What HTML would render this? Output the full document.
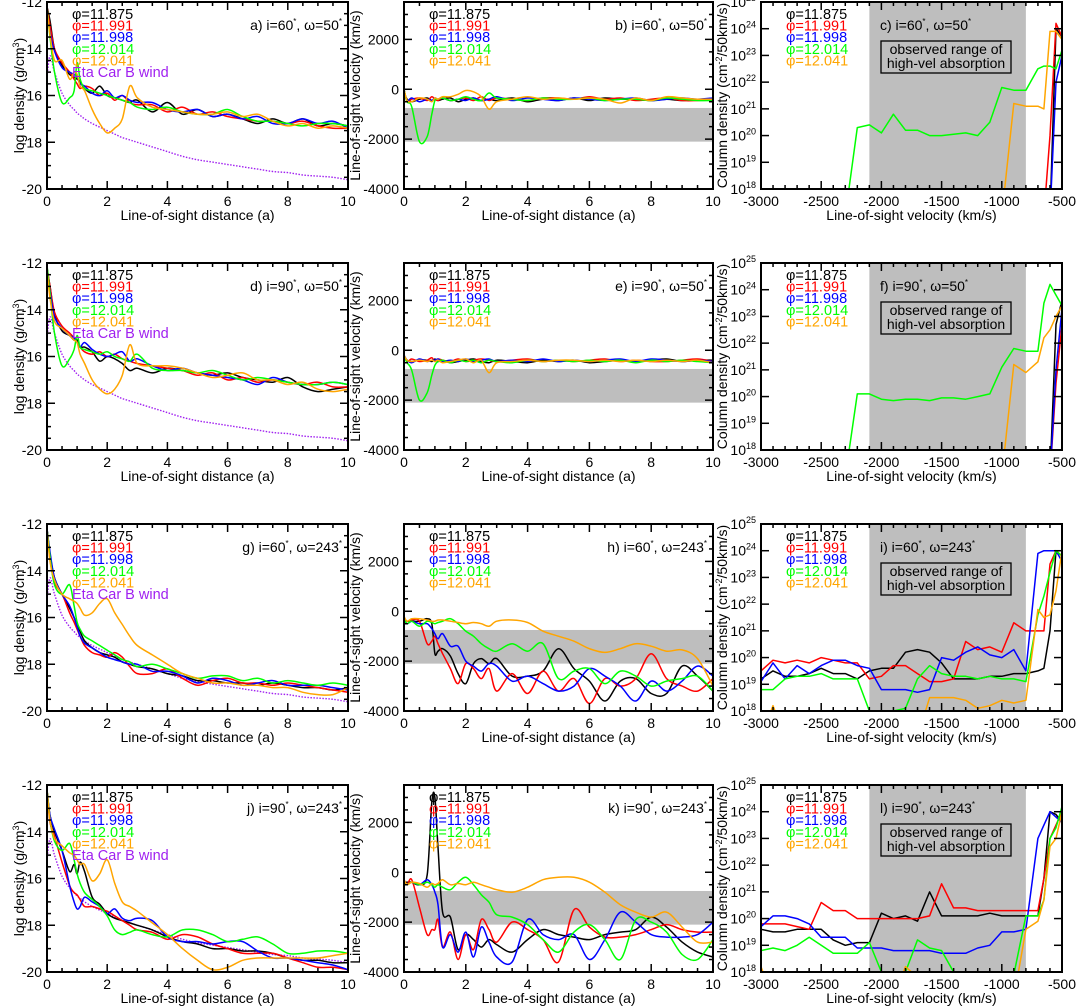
<!DOCTYPE html>
<html><head><meta charset="utf-8">
<style>
html,body{margin:0;padding:0;background:#fff;}
svg{display:block;font-family:"Liberation Sans",sans-serif;}
</style></head>
<body>
<svg id="fig" width="1076" height="1006" viewBox="0 0 1076 1006" xmlns="http://www.w3.org/2000/svg"></svg>
<script>
// shared grids
const G = [0,0.1,0.25,0.5,0.75,0.9,1,1.1,1.25,1.5, 1.75,2,2.25,2.5,2.75,3,3.5,4,4.5,5, 5.5,6,6.5,7,7.5,8,8.5,9,9.5,10];
const V = [-3000,-2900,-2800,-2700,-2600,-2500,-2400,-2300,-2200,-2100, -2000,-1900,-1800,-1700,-1600,-1500,-1400,-1300,-1200,-1100, -1000,-900,-800,-700,-650,-600,-550,-500];
const PHI = ['11.875','11.991','11.998','12.014','12.041'];
const WIND = [-15.2,-14.3,-15.0,-15.9,-16.4,-16.6,-16.75,-16.85,-17.0,-17.2, -17.35,-17.5,-17.65,-17.8,-17.9,-18.0,-18.2,-18.4,-18.6,-18.75, -18.85,-18.95,-19.05,-19.15,-19.25,-19.3,-19.4,-19.45,-19.5,-19.6];
const DEN_TICKS = [-12,-14,-16,-18,-20];
const VEL_TICKS = [-4000,-2000,0,2000];
const DIST_TICKS = [0,2,4,6,8,10];
const LOS_TICKS = [-3000,-2500,-2000,-1500,-1000,-500];
const COL_TICKS = [18,19,20,21,22,23,24,25];
const BAND_VEL = [-750,-2100];
const BAND_LOS = [-2100,-800];

// panel a
const a_k=[-12.2,-12.8,-14.0,-14.7,-15.1,-15.2,-15.3,-15.4,-15.7,-15.9, -15.6,-16.0,-16.1,-16.2,-16.3,-16.2,-16.7,-16.3,-16.8,-16.6, -16.9,-16.8,-17.0,-17.2,-17.0,-17.2,-17.0,-17.3,-17.2,-17.3];
const a_r=[-12.2,-13.0,-14.0,-14.6,-15.0,-15.3,-15.5,-15.7,-15.6,-15.7, -16.0,-15.9,-16.2,-16.0,-16.3,-16.4,-16.4,-16.7,-16.5,-16.8, -16.7,-16.9,-17.0,-17.1,-17.1,-17.2,-17.1,-17.3,-17.4,-17.4];
const a_b=[-12.3,-13.3,-14.1,-14.8,-15.0,-15.1,-15.2,-15.5,-15.6,-15.9, -16.0,-15.8,-16.1,-16.0,-16.2,-16.3,-16.3,-16.6,-16.7,-16.6, -16.9,-16.8,-17.0,-16.9,-17.2,-17.2,-17.0,-17.2,-17.1,-17.4];
const a_g=[-12.2,-13.5,-15.0,-16.3,-16.1,-15.8,-14.6,-15.3,-15.7,-15.8, -15.9,-16.0,-16.1,-16.2,-16.3,-16.5,-16.6,-16.5,-16.7,-16.8, -16.8,-16.6,-16.9,-17.1,-17.1,-17.2,-17.3,-17.2,-17.2,-17.3];
const a_o=[-12.3,-13.4,-14.5,-14.5,-15.3,-15.0,-15.1,-15.6,-15.8,-16.6, -17.2,-17.6,-17.4,-17.0,-15.6,-16.1,-16.5,-16.6,-16.7,-16.8, -16.8,-16.7,-16.9,-16.8,-17.1,-17.3,-17.2,-17.4,-17.3,-17.4];
// panel d
const d_k=[-12.2,-13.0,-14.2,-14.9,-15.1,-15.3,-15.3,-15.6,-15.6,-15.8, -16.2,-16.0,-16.1,-16.3,-16.6,-16.5,-16.7,-16.5,-16.6,-16.7, -16.8,-16.7,-16.9,-17.0,-17.1,-16.9,-17.3,-17.5,-17.4,-17.3];
const d_r=[-12.2,-13.0,-14.1,-14.7,-15.0,-15.2,-15.4,-15.6,-15.8,-15.9, -15.8,-16.0,-15.9,-16.1,-16.2,-16.3,-16.4,-16.5,-16.6,-16.8, -16.7,-17.0,-16.9,-17.1,-17.0,-17.1,-17.2,-17.1,-17.3,-17.3];
const d_b=[-12.3,-13.2,-14.3,-14.8,-15.1,-15.2,-15.4,-15.6,-15.4,-15.7, -15.9,-16.0,-15.9,-15.8,-16.2,-16.1,-16.4,-16.6,-16.5,-16.7, -16.8,-16.9,-17.0,-17.2,-16.9,-17.1,-17.2,-17.2,-17.1,-17.2];
const d_g=[-12.1,-13.3,-15.0,-16.4,-16.1,-15.7,-15.1,-15.6,-15.7,-15.8, -15.9,-15.8,-16.0,-16.1,-16.2,-15.9,-16.5,-16.6,-16.6,-16.7, -16.6,-16.8,-17.0,-16.9,-17.0,-17.1,-17.2,-17.2,-17.1,-17.2];
const d_o=[-12.3,-13.5,-14.5,-14.8,-15.1,-15.3,-15.4,-15.9,-16.3,-17.0, -17.4,-17.6,-17.4,-16.8,-15.5,-16.3,-16.4,-16.4,-16.5,-16.7, -16.9,-16.8,-16.7,-17.0,-17.0,-17.2,-17.1,-17.4,-17.5,-17.4];
// panel g
const g_k=[-12.2,-13.3,-14.3,-15.0,-15.6,-16.0,-16.3,-16.6,-17.0,-17.3, -17.5,-17.6,-17.7,-17.9,-18.0,-18.1,-18.2,-18.4,-18.5,-18.7, -18.7,-18.8,-18.8,-18.9,-18.8,-18.9,-19.0,-19.0,-19.1,-19.0];
const g_r=[-12.2,-13.5,-14.5,-15.0,-15.8,-16.2,-16.5,-16.8,-17.2,-17.5, -17.6,-17.7,-17.5,-17.7,-18.1,-18.4,-18.4,-18.2,-18.6,-18.9, -18.7,-18.6,-18.8,-18.8,-18.9,-18.8,-18.9,-19.0,-19.1,-19.2];
const g_b=[-12.2,-13.2,-14.3,-15.0,-15.5,-16.0,-16.4,-16.8,-17.1,-17.3, -17.5,-17.7,-17.8,-17.9,-18.0,-18.0,-18.3,-18.3,-18.5,-18.8, -18.6,-18.7,-18.9,-18.8,-18.7,-18.9,-18.9,-18.9,-19.0,-19.1];
const g_g=[-12.2,-13.4,-14.6,-15.0,-14.6,-15.5,-16.2,-16.5,-16.8,-17.0, -17.2,-17.4,-17.6,-17.8,-17.9,-18.1,-18.0,-18.2,-18.4,-18.6, -18.5,-18.5,-18.7,-18.6,-18.8,-18.7,-18.8,-18.9,-18.8,-18.9];
const g_o=[-12.2,-13.6,-14.4,-15.0,-15.2,-15.3,-15.4,-15.6,-15.9,-15.8, -15.4,-15.2,-15.8,-16.3,-16.8,-17.2,-17.6,-18.0,-18.4,-18.6, -18.8,-18.8,-18.9,-18.9,-19.0,-19.0,-19.2,-19.3,-19.3,-19.0];
// panel j
const j_k=[-12.2,-13.3,-14.0,-14.8,-15.7,-15.4,-15.8,-15.3,-15.7,-16.8, -17.1,-17.5,-17.7,-17.8,-17.9,-18.0,-18.2,-18.5,-18.7,-18.8, -19.0,-19.0,-19.1,-19.1,-19.2,-19.4,-19.5,-19.5,-19.6,-19.6];
const j_r=[-12.2,-13.6,-14.2,-15.3,-16.3,-16.6,-16.7,-16.9,-17.2,-17.2, -17.3,-17.4,-17.6,-17.8,-18.0,-18.2,-18.3,-18.6,-18.4,-18.5, -18.8,-19.0,-19.2,-19.2,-19.2,-19.4,-19.6,-19.8,-19.8,-19.9];
const j_b=[-12.3,-13.3,-13.9,-14.8,-16.3,-17.0,-17.3,-17.2,-16.8,-17.0, -17.2,-17.5,-17.3,-17.7,-17.8,-17.7,-17.8,-18.5,-18.7,-18.7, -18.8,-18.7,-18.7,-19.1,-19.4,-19.4,-19.5,-19.6,-19.7,-19.9];
const j_g=[-12.2,-13.5,-14.4,-14.8,-14.5,-15.2,-15.8,-16.2,-16.6,-16.9, -17.2,-17.6,-18.2,-18.4,-18.3,-18.2,-18.4,-18.5,-18.2,-18.2, -18.4,-18.7,-18.6,-18.5,-18.8,-19.2,-19.2,-19.1,-19.1,-19.2];
const j_o=[-12.2,-13.5,-14.3,-14.6,-14.9,-15.0,-15.2,-15.4,-15.4,-16.1, -15.8,-15.2,-16.2,-17.0,-17.2,-17.4,-17.9,-18.4,-19.0,-19.5, -19.9,-19.8,-19.5,-19.4,-19.4,-19.4,-19.4,-19.4,-19.3,-19.2];
// panel b
const b_k=[-100,-400,-500,-400,-350,-450,-400,-450,-400,-350, -500,-400,-350,-450,-400,-450,-350,-500,-400,-450, -350,-450,-350,-400,-400,-450,-400,-450,-400,-450];
const b_r=[0,-500,-400,-350,-450,-300,-400,-450,-350,-450, -400,-350,-450,-300,-450,-350,-400,-450,-350,-350, -400,-300,-400,-350,-450,-400,-350,-450,-450,-400];
const b_b=[0,-450,-350,-500,-400,-450,-350,-400,-350,-450, -400,-450,-350,-450,-400,-300,-450,-350,-400,-450, -350,-400,-450,-400,-350,-450,-400,-350,-400,-350];
const b_g=[0,-500,-700,-2100,-1900,-1000,-450,-400,-350,-450, -400,-300,-400,-450,-150,-350,-400,-450,-350,-400, -400,-350,-450,-400,-400,-450,-350,-400,-450,-450];
const b_o=[0,-450,-500,-350,-400,-500,-350,-400,-300,-300, -200,-50,-100,-300,-800,-500,-400,-300,-400,-350, -400,-350,-400,-550,-350,-450,-300,-350,-400,-400];
// panel e
const e_k=[-200,-400,-450,-400,-400,-450,-350,-450,-400,-500, -450,-400,-350,-450,-500,-400,-450,-500,-400,-450, -400,-500,-450,-400,-450,-400,-350,-450,-400,-400];
const e_r=[-200,-450,-350,-450,-400,-300,-450,-350,-400,-450, -350,-450,-400,-350,-400,-450,-400,-350,-450,-400, -450,-400,-350,-450,-400,-450,-450,-400,-350,-450];
const e_b=[-200,-400,-500,-350,-450,-400,-400,-350,-450,-400, -450,-350,-450,-400,-350,-450,-400,-450,-350,-450, -400,-450,-400,-350,-450,-350,-400,-450,-400,-450];
const e_g=[-200,-500,-800,-2000,-1700,-1000,-600,-450,-400,-500, -400,-450,-400,-500,-400,-450,-500,-400,-450,-400, -450,-400,-450,-400,-500,-400,-450,-400,-450,-500];
const e_o=[-200,-400,-450,-400,-450,-400,-450,-400,-500,-450, -400,-350,-500,-400,-900,-500,-450,-400,-450,-400, -400,-450,-400,-450,-400,-450,-400,-450,-400,-500];
// panel h
const h_k=[-300,-400,-400,-400,-300,-500,-1700,-1600,-1500,-1800, -2500,-2900,-2100,-1900,-2100,-1900,-2600,-2600,-2400,-1500, -2300,-2800,-3600,-2800,-2700,-3300,-3300,-2200,-2600,-3200];
const h_r=[-300,-400,-350,-400,-1300,-1200,-1000,-1300,-1700,-2300, -2900,-2100,-2300,-2700,-2300,-3200,-2500,-3300,-2400,-3200, -2700,-3700,-2700,-3000,-2700,-1700,-2700,-3000,-3200,-2700];
const h_b=[-300,-500,-400,-500,-500,-700,-900,-1100,-900,-1400, -1400,-2000,-2200,-2400,-2100,-2200,-2800,-2600,-2900,-3200, -3000,-2300,-2600,-3000,-3600,-2800,-3200,-2800,-2200,-2600];
const h_g=[-300,-500,-400,-600,-400,-450,-500,-450,-400,-300, -500,-800,-1000,-1300,-1500,-1600,-1300,-1600,-1300,-2700, -2400,-2300,-2900,-2400,-2600,-3000,-2800,-2700,-2600,-3200];
const h_o=[-200,-400,-300,-300,-350,-400,-400,-350,-350,-400, -450,-500,-450,-500,-600,-400,-350,-450,-800,-1000, -1200,-1500,-1650,-1500,-1300,-1400,-1600,-1550,-1900,-3000];
// panel k
const k_k=[-400,-400,-400,-500,-100,2800,3000,1000,-1600,-1800, -3100,-2500,-2700,-3000,-2700,-2900,-3200,-2700,-2300,-2500, -2600,-2700,-2500,-2400,-2300,-1800,-2200,-2800,-3200,-3400];
const k_r=[-300,-500,-300,-1400,-2500,-2300,-2300,-1900,-3000,-2400, -3500,-2500,-3100,-1900,-2300,-2800,-2000,-2300,-2700,-3600, -1500,-2200,-2600,-2600,-2500,-2300,-2100,-2300,-2400,-2400];
const k_b=[-400,-500,-400,-500,-300,-500,-800,-1300,-3000,-2500, -3200,-2400,-3400,-2200,-2800,-3400,-3600,-1900,-2500,-2700, -2500,-3500,-2700,-1600,-2000,-2500,-2600,-2600,-2500,-2000];
const k_g=[-400,-500,-400,-500,-400,-500,-600,-500,-600,-700, -400,-200,-500,-900,-1200,-1700,-1800,-2100,-2700,-3200, -2400,-2100,-2700,-3500,-1900,-2000,-2400,-3300,-3500,-2700];
const k_o=[-300,-500,-400,-450,-600,-450,-500,-450,-300,-500, -450,-500,-400,-500,-600,-700,-800,-600,-300,-200, -200,-400,-800,-1300,-1600,-1800,-1600,-2200,-2800,-2800];
// panel c (log10 column density; 17 = below axis)
const c_k=[17,17,17,17,17,17,17,17,17,17, 17,17,17,17,17,17,17,17,17,17, 17,17,17,17,17,17,24.0,23.7];
const c_r=[17,17,17,17,17,17,17,17,17,17, 17,17,17,17,17,17,17,17,17,17, 17,17,17,17,17,20.0,24.2,23.7];
const c_b=[17,17,17,17,17,17,17,17,17,17, 17,17,17,17,17,17,17,17,17,17, 17,17,17,17,17,17,22.0,23.0];
const c_g=[17,17,17,17,17,17,17,17,20.3,20.4, 20.1,20.8,20.2,20.2,20.0,20.0,20.05,20.1,20.0,20.5, 21.8,21.7,21.7,22.5,22.6,22.6,22.5,23.2];
const c_o=[17,17,17,17,17,17,17,17,17,17, 17,17,17,17,17,17,17,17,17,17, 17,21.2,21.1,21.1,21.0,23.9,23.9,23.6];
// panel f
const f_k=[17,17,17,17,17,17,17,17,17,17, 17,17,17,17,17,17,17,17,17,17, 17,17,17,17,17,17,22.7,23.6];
const f_r=[17,17,17,17,17,17,17,17,17,17, 17,17,17,17,17,17,17,17,17,17, 17,17,17,17,17,17,20.5,22.7];
const f_b=[17,17,17,17,17,17,17,17,17,17, 17,17,17,17,17,17,17,17,17,17, 17,17,17,17,17,17,21.0,23.3];
const f_g=[17,17,17,17,17,17,17,17,20.1,20.1, 19.9,19.85,19.9,19.9,19.85,19.95,19.95,19.9,20.0,20.1, 21.1,21.8,21.7,21.7,23.5,24.2,23.8,23.4];
const f_o=[17,17,17,17,17,17,17,17,17,17, 17,17,17,17,17,17,17,17,17,17, 17,21.2,20.9,21.3,22.2,22.5,23.0,23.4];
// panel i
const i_k=[19.2,19.5,19.3,19.3,19.4,19.6,19.4,19.4,19.2,19.5, 19.6,19.6,20.2,20.3,20.2,19.8,19.2,19.2,19.2,19.3, 19.3,19.4,19.4,19.5,19.6,21.0,24.0,23.8];
const i_r=[19.5,19.9,19.8,19.9,19.8,20.0,19.9,19.8,19.8,19.2, 19.3,19.7,19.7,19.4,19.1,19.1,19.2,20.6,20.3,20.4, 20.2,21.3,21.0,21.0,21.0,23.5,24.0,24.0];
const i_b=[19.1,19.8,19.2,19.7,19.4,19.7,19.9,19.9,19.7,19.6, 18.8,18.8,18.8,18.7,18.8,20.0,19.9,20.2,20.4,20.1, 20.0,20.3,19.5,23.9,24.0,24.0,24.0,23.6];
const i_g=[18.8,18.8,19.2,19.3,19.3,19.4,19.2,19.2,19.2,18.0, 18.0,18.0,18.1,19.2,19.7,19.4,19.3,19.3,19.2,19.3, 19.2,19.2,19.1,21.6,22.3,23.2,24.0,23.8];
const i_o=[17,18.2,17,17,17,17,17,17,17,17, 17,17,17,17,18.5,18.5,18.5,18.4,18.1,18.2, 18.4,18.3,18.4,21.8,21.5,21.6,22.5,24.0];
// panel l
const l_k=[19.6,19.5,19.5,19.6,19.6,19.6,19.2,19.0,19.1,19.1, 20.2,20.0,20.1,19.9,21.0,20.1,20.1,20.1,20.1,20.2, 20.1,20.1,20.1,20.1,21.5,24.0,23.9,23.6];
const l_r=[19.8,19.8,19.8,19.7,19.6,20.6,20.3,20.3,20.0,20.0, 20.0,20.0,20.0,20.0,20.1,21.3,20.4,20.4,20.3,20.3, 20.3,20.3,20.3,20.3,21.5,23.0,23.5,24.0];
const l_b=[19.7,20.1,20.1,20.0,19.8,19.3,19.3,19.3,18.9,18.9, 18.9,18.8,18.8,18.8,18.8,18.7,18.7,18.7,18.9,19.0, 19.5,19.5,19.6,23.0,23.5,24.0,23.8,23.6];
const l_g=[18.8,18.9,18.8,19.0,19.3,19.0,18.7,18.7,18.7,19.1, 18.0,17.9,18.0,19.2,18.9,18.8,18.0,18.0,17.9,17.9, 17.9,17.9,20.1,20.1,20.7,23.0,23.4,24.2];
const l_o=[18.2,17,17,17,17.5,17,17,17,17,17, 17,17,18.2,17.8,18.0,17,17,17,17,17, 17,17,19.6,19.9,20.7,22.7,23.0,24.0];

const COLORS=['#000000','#ff0000','#0000ff','#00ff00','#ffa500'];
const COLS=[{l:47,r:348},{l:404,r:713},{l:761,r:1062}];
const ROWS=[2,263,524,785];
const H=187;
const FS=14;
const PANELS=[
 {id:'a',c:0,r:0,inc:'60',om:'50',s:[a_k,a_r,a_b,a_g,a_o]},
 {id:'b',c:1,r:0,inc:'60',om:'50',s:[b_k,b_r,b_b,b_g,b_o]},
 {id:'c',c:2,r:0,inc:'60',om:'50',s:[c_k,c_r,c_b,c_g,c_o]},
 {id:'d',c:0,r:1,inc:'90',om:'50',s:[d_k,d_r,d_b,d_g,d_o]},
 {id:'e',c:1,r:1,inc:'90',om:'50',s:[e_k,e_r,e_b,e_g,e_o]},
 {id:'f',c:2,r:1,inc:'90',om:'50',s:[f_k,f_r,f_b,f_g,f_o]},
 {id:'g',c:0,r:2,inc:'60',om:'243',s:[g_k,g_r,g_b,g_g,g_o]},
 {id:'h',c:1,r:2,inc:'60',om:'243',s:[h_k,h_r,h_b,h_g,h_o]},
 {id:'i',c:2,r:2,inc:'60',om:'243',s:[i_k,i_r,i_b,i_g,i_o]},
 {id:'j',c:0,r:3,inc:'90',om:'243',s:[j_k,j_r,j_b,j_g,j_o]},
 {id:'k',c:1,r:3,inc:'90',om:'243',s:[k_k,k_r,k_b,k_g,k_o]},
 {id:'l',c:2,r:3,inc:'90',om:'243',s:[l_k,l_r,l_b,l_g,l_o]}
];
const NS='http://www.w3.org/2000/svg';
const svg=document.getElementById('fig');
function mk(tag,attrs,parent){const e=document.createElementNS(NS,tag);for(const k in attrs)e.setAttribute(k,attrs[k]);(parent||svg).appendChild(e);return e;}
const defs=mk('defs',{});
// smooth path through points (Catmull-Rom -> Bezier)
function smooth(pts){
  let d='M'+pts[0][0].toFixed(1)+','+pts[0][1].toFixed(1);
  for(let i=0;i<pts.length-1;i++){
    const p0=pts[Math.max(0,i-1)],p1=pts[i],p2=pts[i+1],p3=pts[Math.min(pts.length-1,i+2)];
    const c1x=p1[0]+(p2[0]-p0[0])/6,c1y=p1[1]+(p2[1]-p0[1])/6;
    const c2x=p2[0]-(p3[0]-p1[0])/6,c2y=p2[1]-(p3[1]-p1[1])/6;
    d+=' C'+c1x.toFixed(1)+','+c1y.toFixed(1)+' '+c2x.toFixed(1)+','+c2y.toFixed(1)+' '+p2[0].toFixed(1)+','+p2[1].toFixed(1);
  }
  return d;
}
function straight(pts){return 'M'+pts.map(p=>p[0].toFixed(1)+','+p[1].toFixed(1)).join(' L');}

PANELS.forEach(p=>{
  const col=COLS[p.c], top=ROWS[p.r], bot=top+H, L=col.l, R=col.r;
  let xd, yd;
  if(p.c===2){xd=[-3000,-500];yd=[18,25];}
  else if(p.c===1){xd=[0,10];yd=[-4000,3500];}
  else {xd=[0,10];yd=[-20,-12];}
  const X=v=>L+(v-xd[0])/(xd[1]-xd[0])*(R-L);
  const Y=v=>bot-(v-yd[0])/(yd[1]-yd[0])*H;
  const g=mk('g',{});
  
  
  const cp=mk('clipPath',{id:'clip-'+p.id},defs);
  mk('rect',{x:L,y:top,width:R-L,height:H},cp);
  if(p.c===1){
    const b=mk('rect',{x:L,y:Y(BAND_VEL[0]),width:R-L,height:Y(BAND_VEL[1])-Y(BAND_VEL[0]),fill:'#bebebe'},g);
    
    
  }
  if(p.c===2){
    const b=mk('rect',{x:X(BAND_LOS[0]),y:top,width:X(BAND_LOS[1])-X(BAND_LOS[0]),height:H,fill:'#bebebe'},g);
    
    
  }
  const xs = p.c===2 ? V : G;
  const draw = p.c===2 ? straight : smooth;
  const lg=mk('g',{'clip-path':'url(#clip-'+p.id+')'},g);
  if(p.c===0){
    const w=mk('path',{d:smooth(xs.map((x,i)=>[X(x),Y(WIND[i])])),fill:'none',stroke:'#a020f0','stroke-width':1.4,'stroke-dasharray':'1.5 1.5'},lg);
    
    
  }
  p.s.forEach((arr,si)=>{
    const pl=mk('path',{d:draw(xs.map((x,i)=>[X(x),Y(arr[i])])),fill:'none',stroke:COLORS[si],'stroke-width':1.5,'stroke-linejoin':'round'},lg);
    
    
  });
  const fr=mk('rect',{x:L,y:top,width:R-L,height:H,fill:'none',stroke:'#000','stroke-width':2},g);
  
  
  const tk=mk('g',{stroke:'#000','stroke-width':1.5},g);
  const xmaj = p.c===2 ? LOS_TICKS : DIST_TICKS;
  const xmin = p.c===2 ? 100 : 0.5;
  for(let v=xd[0]; v<=xd[1]+1e-9; v+=xmin){
    const isM = xmaj.some(t=>Math.abs(t-v)<1e-6);
    const len=isM?8:4;
    mk('line',{x1:X(v),x2:X(v),y1:bot,y2:bot-len},tk);
    mk('line',{x1:X(v),x2:X(v),y1:top,y2:top+len},tk);
  }
  let ymaj, ymin;
  if(p.c===0){ymaj=DEN_TICKS;ymin=0.5;} else if(p.c===1){ymaj=VEL_TICKS;ymin=500;} else {ymaj=COL_TICKS;ymin=1;}
  for(let v=yd[0]; v<=yd[1]+1e-9; v+=ymin){
    const isM = ymaj.some(t=>Math.abs(t-v)<1e-6);
    const len=isM?8:4;
    mk('line',{x1:L,x2:L+len,y1:Y(v),y2:Y(v)},tk);
    mk('line',{x1:R,x2:R-len,y1:Y(v),y2:Y(v)},tk);
  }
  xmaj.forEach(v=>{
    const t=mk('text',{x:X(v),y:bot+17,'font-size':FS,'text-anchor':'middle'},g);
    t.textContent=String(v);
    
    
  });
  ymaj.forEach(v=>{
    const t=mk('text',{x:L-5,y:Y(v)+5,'font-size':FS,'text-anchor':'end'},g);
    
    
    if(p.c===2){
      t.textContent='10';
      const s=mk('tspan',{'font-size':9,dy:-6},t); s.textContent=String(v);
    } else t.textContent=String(v);
  });
  const xt=mk('text',{x:(L+R)/2,y:bot+31,'font-size':FS,'text-anchor':'middle'},g);
  xt.textContent = p.c===2 ? 'Line-of-sight velocity (km/s)' : 'Line-of-sight distance (a)';
  
  
  const ax = p.c===0 ? 24 : (p.c===1 ? 360 : 727);
  const yt=mk('text',{x:ax,y:(top+bot)/2,'font-size':FS,'text-anchor':'middle',transform:'rotate(-90 '+ax+' '+((top+bot)/2)+')'},g);
  
  
  if(p.c===0){yt.textContent='log density (g/cm';const s=mk('tspan',{'font-size':9,dy:-5},yt);s.textContent='3';const s2=mk('tspan',{dy:5},yt);s2.textContent=')';}
  else if(p.c===1){yt.textContent='Line-of-sight velocity (km/s)';}
  else {yt.textContent='Column density (cm';const s=mk('tspan',{'font-size':9,dy:-5},yt);s.textContent='-2';const s2=mk('tspan',{dy:5},yt);s2.textContent='/50km/s)';}
  const lx=L+25;
  PHI.forEach((ph,si)=>{
    const t=mk('text',{x:lx,y:top+17+si*11.6,'font-size':14.5,fill:COLORS[si]},g);
    t.textContent='\u03c6='+ph;
    
    
  });
  if(p.c===0){
    const t=mk('text',{x:lx,y:top+17+5*11.6,'font-size':14.5,fill:'#a020f0'},g);
    t.textContent='Eta Car B wind';
    
    
  }
  const pl = p.c===2 ? mk('text',{x:L+119,y:top+28,'font-size':FS},g) : mk('text',{x:R-6,y:top+28,'font-size':FS,'text-anchor':'end'},g);
  
  
  pl.textContent=p.id+') i='+p.inc;
  let s=mk('tspan',{'font-size':8,dy:-6},pl); s.textContent='*';
  s=mk('tspan',{dy:6},pl); s.textContent=', \u03c9='+p.om;
  s=mk('tspan',{'font-size':8,dy:-6},pl); s.textContent='*';
  if(p.c===2){
    const bx=mk('rect',{x:L+120,y:top+39,width:130,height:32,fill:'none',stroke:'#000','stroke-width':1.3},g);
    
    
    const t1=mk('text',{x:L+185,y:top+52,'font-size':FS,'text-anchor':'middle'},g);
    t1.textContent='observed range of';
    
    
    const t2=mk('text',{x:L+185,y:top+66,'font-size':FS,'text-anchor':'middle'},g);
    t2.textContent='high-vel absorption';
    
    
  }
});
</script>
</body></html>
